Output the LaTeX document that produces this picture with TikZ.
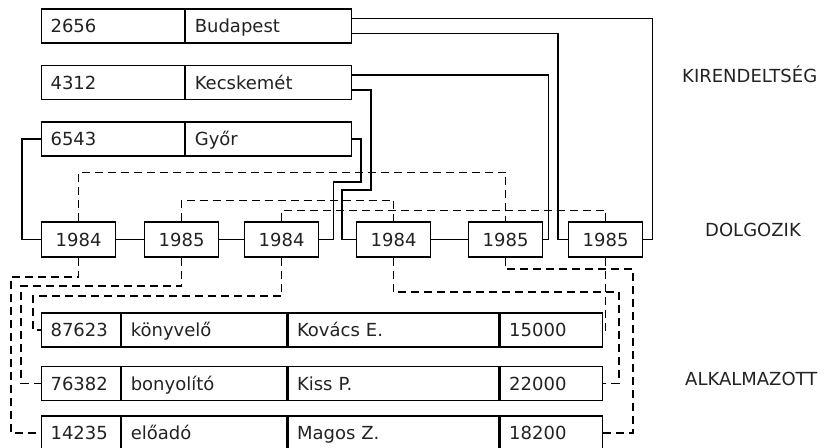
\documentclass[tikz,border=0pt]{standalone}
\usepackage{fontspec}
\setmainfont{DejaVu Sans}
\usetikzlibrary{calc}
\definecolor{ink}{HTML}{222222}
\begin{document}
\begin{tikzpicture}[x=1pt, y=-1pt,
  font=\fontsize{18}{20}\selectfont,
  wire/.style={line width=1.2pt, line join=miter},
  dwire/.style={wire, dash pattern=on 8pt off 5pt},
  cell/.style={draw=black, line width=1.2pt, text=ink, anchor=west,
    minimum height=34pt, inner ysep=0pt, text height=13pt, text depth=0pt},
  lcell/.style={cell, text width=#1, align=left, inner xsep=9pt},
  ycell/.style={cell, minimum width=74pt, minimum height=35pt, inner xsep=0pt},
  tag/.style={anchor=base west, inner sep=0pt, text=ink}]
\useasboundingbox (0,0) rectangle (826,447);

% KIRENDELTSÉG records
\node[lcell=125] (t1n) at (41,26) {2656};
\node[lcell=148] (t1c) at (t1n.east) {Budapest};
\node[lcell=125] (t2n) at (41,82.5) {4312};
\node[lcell=148] (t2c) at (t2n.east) {Kecskemét};
\node[lcell=125] (t3n) at (41,139) {6543};
\node[lcell=148] (t3c) at (t3n.east) {Győr};

% DOLGOZIK records
\node[ycell] (b1) at (41,239.5) {1984};
\node[ycell] (b2) at (144,239.5) {1985};
\node[ycell] (b3) at (244,239.5) {1984};
\node[ycell] (b4) at (356,239.5) {1984};
\node[ycell] (b5) at (468,239.5) {1985};
\node[ycell] (b6) at (568,239.5) {1985};

% ALKALMAZOTT records
\node[lcell=61]  (e1n) at (41,330) {87623};
\node[lcell=147] (e1j) at (e1n.east) {könyvelő};
\node[lcell=193] (e1m) at (e1j.east) {Kovács E.};
\node[lcell=84]  (e1s) at (e1m.east) {15000};
\node[lcell=61]  (e2n) at (41,383.5) {76382};
\node[lcell=147] (e2j) at (e2n.east) {bonyolító};
\node[lcell=193] (e2m) at (e2j.east) {Kiss P.};
\node[lcell=84]  (e2s) at (e2m.east) {22000};
\node[lcell=61]  (e3n) at (41,433) {14235};
\node[lcell=147] (e3j) at (e3n.east) {előadó};
\node[lcell=193] (e3m) at (e3j.east) {Magos Z.};
\node[lcell=84]  (e3s) at (e3m.east) {18200};

% record type names
\node[tag] (lk) at (682,82) {KIRENDELTSÉG};
\node[tag] (ld) at (705,236) {DOLGOZIK};
\node[tag] (la) at (685,385) {ALKALMAZOTT};

% owner chains (solid)
\draw[wire] ($(t1c.east)+(0,-7.5)$) -| ($(b6.east)+(9,0)$) -- (b6.east);
\draw[wire] ($(t1c.east)+(0,7.5)$) -| ($(b6.west)+(-10,0)$) -- (b6.west);
\draw[wire] ($(t2c.east)+(0,-7.5)$) -| ($(b5.east)+(5,0)$) -- (b5.east);
\draw[wire] ($(t2c.east)+(0,7.5)$) -| (371,190) -| ($(b4.west)+(-14,0)$) -- (b4.west);
\draw[wire] (t3c.east) -| (361,182) -| ($(b3.east)+(14,0)$) -- (b3.east);
\draw[wire] (t3n.west) -| ($(b1.west)+(-19,0)$) -- (b1.west);
\draw[wire] (b1.east) -- (b2.west);
\draw[wire] (b2.east) -- (b3.west);
\draw[wire] (b4.east) -- (b5.west);

% member chains (dashed)
\draw[dwire] (b1.north) |- ($(b5.north)+(0,-49)$) -- (b5.north);
\draw[dwire] (b2.north) |- ($(b4.north)+(0,-21)$) -- (b4.north);
\draw[dwire] (b3.north) |- ($(b6.north)+(0,-11)$) -- (b6.north);
\draw[dwire] (b1.south) |- (11,277) |- (e3n.west);
\draw[dwire] (b2.south) |- (21,286) |- (e2n.west);
\draw[dwire] (b3.south) |- (33,296) |- (e1n.west);
\draw[dwire] (b4.south) |- (619,292) |- (e2s.east);
\draw[dwire] (b5.south) |- (633,269) |- (e3s.east);
\draw[dwire] (b6.south) |- (e1s.east);
\end{tikzpicture}
\end{document}
